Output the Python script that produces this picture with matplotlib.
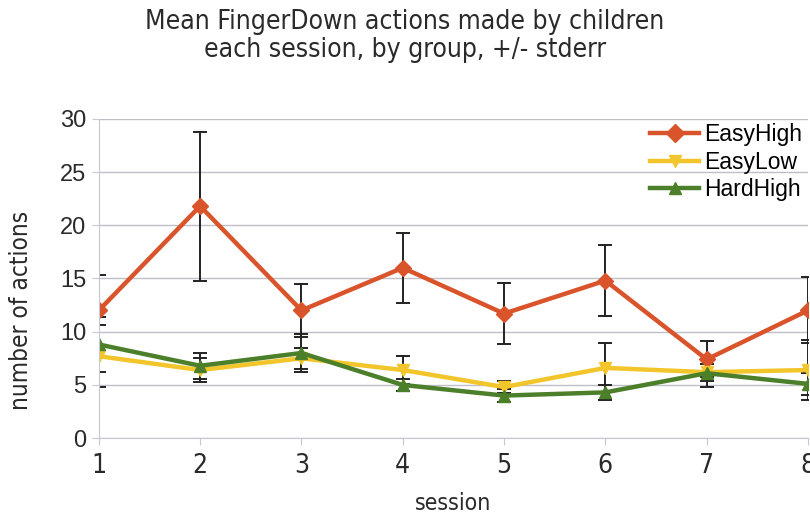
import matplotlib
matplotlib.use("Agg")
import matplotlib.pyplot as plt
from matplotlib.lines import Line2D

# mean FingerDown actions per session, with standard errors
sessions = [1, 2, 3, 4, 5, 6, 7, 8]
groups = ["EasyHigh", "EasyLow", "HardHigh"]
easy_high = [12.0, 21.8, 12.0, 16.0, 11.7, 14.8, 7.4, 12.0]
easy_high_err = [3.3, 7.0, 2.5, 3.3, 2.9, 3.3, 1.7, 3.1]
easy_low = [7.7, 6.4, 7.5, 6.4, 4.8, 6.6, 6.2, 6.4]
easy_low_err = [2.9, 1.1, 1.0, 1.3, 0.6, 2.3, 0.8, 2.8]
hard_high = [8.8, 6.8, 8.0, 5.0, 4.0, 4.3, 6.1, 5.1]
hard_high_err = [2.6, 1.2, 1.8, 0.6, 0.6, 0.7, 1.3, 1.0]

colors = ["#D9532B", "#F2C52A", "#4C7F2A"]
markers = ["D", "v", "^"]

plt.rcParams["font.family"] = ["Liberation Sans", "DejaVu Sans"]
cond = dict(family="DejaVu Sans", stretch="condensed")

fig = plt.figure(figsize=(8.1, 5.21), dpi=100)
ax = fig.add_axes([0.122, 0.159, 0.8755, 0.613])

series = [(easy_high, easy_high_err), (easy_low, easy_low_err), (hard_high, hard_high_err)]
handles = []
for (vals, errs), name, c, m in zip(series, groups, colors, markers):
    ax.errorbar(sessions, vals, yerr=errs, color=c, lw=3.2, marker=m, ms=8,
                ecolor="#222222", elinewidth=1.4, capsize=5, capthick=1.4)
    handles.append(Line2D([], [], color=c, lw=3.2, marker=m, ms=9, label=name))

ax.set_xlim(1, 8)
ax.set_ylim(0, 30)
ax.set_yticks(range(0, 31, 5))
ax.set_xticks(sessions)
ax.grid(axis="y", color="#bfbfc8", lw=1)
ax.set_axisbelow(True)
for s in ["top", "right"]:
    ax.spines[s].set_visible(False)
for s in ["left", "bottom"]:
    ax.spines[s].set_color("#c8c8d4")
ax.tick_params(colors="#c8c8d4", labelcolor="#2a2a2a", length=5)
ax.tick_params(axis="y", labelsize=17, pad=4)
for lab in ax.get_xticklabels():
    lab.set_family(cond["family"])
    lab.set_stretch(cond["stretch"])
    lab.set_fontsize(19)
ax.tick_params(axis="x", pad=6)

ax.set_xlabel("session", fontsize=16.5, labelpad=9, color="#2a2a2a", **cond)
ax.set_ylabel("number of actions", fontsize=17.5, color="#2a2a2a", **cond)
ax.yaxis.set_label_coords(-0.093, 0.40)

fig.suptitle("Mean FingerDown actions made by children\neach session, by group, +/- stderr",
             fontsize=19, y=0.982, color="#2a2a2a", linespacing=1.1, **cond)

ax.legend(handles=handles, loc="upper left", bbox_to_anchor=(0.765, 1.015), frameon=False,
          fontsize=16.5, handlelength=2.1, handletextpad=0.25, labelspacing=0.2,
          borderaxespad=0)

fig.savefig("out.png", dpi=100)
